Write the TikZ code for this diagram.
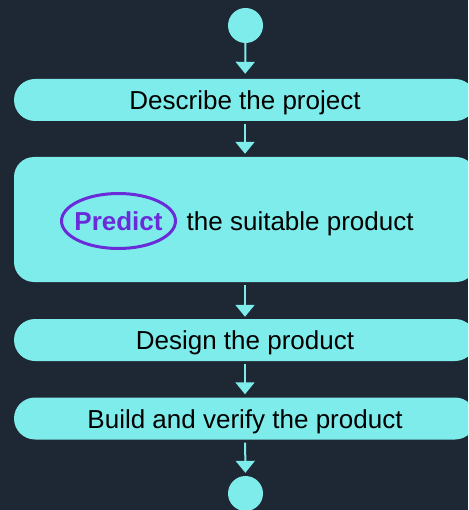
\documentclass[tikz,border=0pt]{standalone}
\usepackage{fontspec}
\setmainfont{Liberation Sans}
\usetikzlibrary{arrows.meta,shapes.geometric}
\definecolor{bg}{HTML}{1E2734}
\definecolor{cyanbox}{HTML}{7FECEC}
\definecolor{purp}{HTML}{6A2BD9}
\tikzset{
  stepbox/.style={fill=cyanbox, draw=none, rounded corners=21pt, minimum width=462pt, minimum height=42pt, inner sep=0pt, font=\fontsize{26}{30}\selectfont, text=black, text height=19pt, text depth=0pt},
  bigbox/.style={fill=cyanbox, draw=none, rounded corners=20pt, minimum width=462pt, minimum height=125pt, inner sep=0pt},
  term/.style={circle, fill=cyanbox, draw=none, minimum size=35pt, inner sep=0pt},
  arr/.style={draw=cyanbox, line width=2pt, -{Triangle[width=19pt,length=12pt]}, shorten <=3pt, shorten >=3pt},
  txt/.style={font=\fontsize{26}{30}\selectfont, text=black, inner sep=0pt, text height=19pt, text depth=0pt}
}
\begin{document}
\begin{tikzpicture}[x=1pt,y=-1pt]
\useasboundingbox (0,0) rectangle (468,510);
\clip (0,0) rectangle (468,510);
\fill[bg] (0,0) rectangle (468,510);
\node[term] (c1) at (245.5,25.5) {};
\node[stepbox] (b1) at (245,100) {Describe the project};
\node[bigbox] (b2) at (245,219.5) {};
\node[txt, text=purp, font=\fontsize{26}{30}\selectfont\bfseries] (pr) at (118.5,221) {Predict};
\draw[purp, line width=3pt] (pr.center) ellipse [x radius=57pt, y radius=27.5pt];
\node[txt, anchor=west] (st) at (186.5,221) {the suitable product};
\node[stepbox] (b3) at (245,340) {Design the product};
\node[stepbox] (b4) at (245,418.5) {Build and verify the product};
\node[term] (c2) at (245.5,493.5) {};
\draw[arr, shorten <=0pt, shorten >=5pt] (c1) -- (b1);
\draw[arr] (b1) -- (b2);
\draw[arr, shorten >=2pt] (b2) -- (b3);
\draw[arr] (b3) -- (b4);
\draw[arr, shorten >=3pt] (b4) -- (c2);
\end{tikzpicture}
\end{document}
